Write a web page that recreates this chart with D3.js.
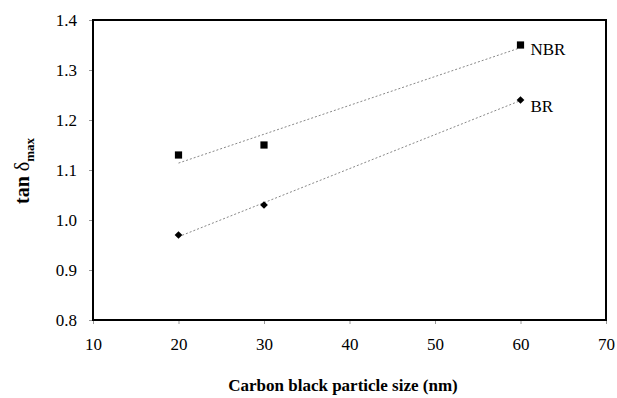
<!DOCTYPE html>
<html>
<head>
<meta charset="utf-8">
<script src="https://cdn.jsdelivr.net/npm/d3@7"></script>
<style>
  body { margin: 0; background: #fff; }
  svg text { font-family: "Liberation Serif", "Times New Roman", serif; fill: #000; }
</style>
</head>
<body>
<svg id="chart" width="617" height="398"></svg>
<script>
// data
const particleSize = [20, 30, 60];
const nbrValues = [1.13, 1.15, 1.35];
const brValues = [0.97, 1.03, 1.24];
const xTicks = [10, 20, 30, 40, 50, 60, 70];
const yTicks = [0.8, 0.9, 1.0, 1.1, 1.2, 1.3, 1.4];

const svg = d3.select('#chart');
const margin = { left: 93, right: 11, top: 20, bottom: 78 };
const width = 617 - margin.left - margin.right;
const height = 398 - margin.top - margin.bottom;
const serif = '"Liberation Serif", "Times New Roman", serif';

const x = d3.scaleLinear().domain([10, 70]).range([margin.left, margin.left + width]);
const y = d3.scaleLinear().domain([0.8, 1.4]).range([margin.top + height, margin.top]);

// least squares trend line
function fit(xs, ys) {
    const mx = d3.mean(xs), my = d3.mean(ys);
    const sxy = d3.sum(xs, (v, i) => (v - mx) * (ys[i] - my));
    const sxx = d3.sum(xs, v => (v - mx) * (v - mx));
    const slope = sxy / sxx;
    return v => my + slope * (v - mx);
}

// axes
const xAxis = svg.append('g')
    .attr('transform', `translate(0,${margin.top + height})`)
    .call(d3.axisBottom(x).tickValues(xTicks).tickFormat(d3.format('d')).tickSize(4).tickPadding(14));
const yAxis = svg.append('g')
    .attr('transform', `translate(${margin.left},0)`)
    .call(d3.axisLeft(y).tickValues(yTicks).tickFormat(d3.format('.1f')).tickSize(4).tickPadding(12));

[xAxis, yAxis].forEach(g => {
    g.attr('font-family', serif).attr('font-size', 17);
    g.select('.domain').remove();
    g.selectAll('.tick line').attr('stroke', '#999');
    g.selectAll('.tick text').attr('font-family', serif).style('font-size', '17px');
});

// frame
svg.append('rect')
    .attr('x', margin.left)
    .attr('y', margin.top)
    .attr('width', width)
    .attr('height', height)
    .attr('fill', 'none')
    .attr('stroke', '#000')
    .attr('stroke-width', 2);

const series = [
    { name: 'NBR', values: nbrValues, rotate: 0, labelDy: 10 },
    { name: 'BR', values: brValues, rotate: 45, labelDy: 12 }
];

series.forEach(s => {
    const f = fit(particleSize, s.values);
    const x0 = d3.min(particleSize), x1 = d3.max(particleSize);
    svg.append('line')
        .attr('x1', x(x0)).attr('y1', y(f(x0)))
        .attr('x2', x(x1)).attr('y2', y(f(x1)))
        .attr('stroke', '#888')
        .attr('stroke-width', 1)
        .attr('stroke-dasharray', '2,2');

    svg.selectAll(null)
        .data(particleSize.map((v, i) => [v, s.values[i]]))
        .enter()
        .append('path')
        .attr('d', d3.symbol().type(d3.symbolSquare).size(s.rotate ? 30 : 52))
        .attr('transform', d => `translate(${x(d[0])},${y(d[1])}) rotate(${s.rotate})`)
        .attr('fill', '#000');

    svg.append('text')
        .attr('x', x(x1) + 10)
        .attr('y', y(s.values[s.values.length - 1]) + s.labelDy)
        .style('font-size', '17px')
        .text(s.name);
});

// axis titles
svg.append('text')
    .attr('x', 343)
    .attr('y', 391)
    .attr('text-anchor', 'middle')
    .style('font-size', '17px')
    .style('font-weight', 'bold')
    .text('Carbon black particle size (nm)');

const yTitle = svg.append('text')
    .attr('transform', 'translate(29,171) rotate(-90)')
    .attr('text-anchor', 'middle')
    .style('font-size', '20px')
    .style('font-weight', 'bold');
yTitle.append('tspan').text('tan ');
yTitle.append('tspan').style('font-weight', 'normal').text('δ');
yTitle.append('tspan').attr('dy', 5).style('font-size', '13px').text('max');
</script>
</body>
</html>
